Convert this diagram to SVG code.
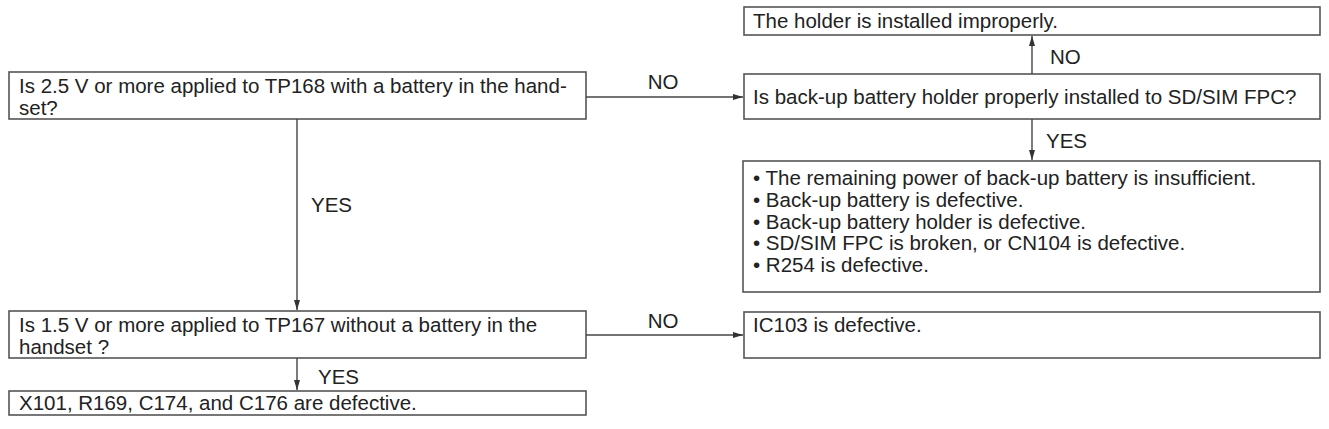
<svg xmlns="http://www.w3.org/2000/svg" width="1329" height="429" viewBox="0 0 1329 429">
<defs>
<style>
.box{fill:#fff;stroke:#555;stroke-width:1.6}
.t{font-family:"Liberation Sans",Arial,sans-serif;font-size:20.5px;fill:#222}
.lbl{font-family:"Liberation Sans",Arial,sans-serif;font-size:20.5px;fill:#222}
.ln{stroke:#444;stroke-width:1.4;fill:none}
</style>
<marker id="ah" viewBox="0 0 10 6" refX="10" refY="3" markerWidth="10" markerHeight="6" markerUnits="userSpaceOnUse" orient="auto">
<path d="M0,0 L10,3 L0,6 Z" fill="#333"/>
</marker>
</defs>
<rect width="1329" height="429" fill="#fff"/>
<g id="n_holder_improper">
<rect class="box" x="744" y="7" width="576" height="28"/>
<text class="t" x="753" y="28">The holder is installed improperly.</text>
</g>
<g id="n_q_holder">
<rect class="box" x="744" y="74" width="576" height="45"/>
<text class="t" x="753" y="104">Is back-up battery holder properly installed to SD/SIM FPC?</text>
</g>
<g id="n_causes">
<rect class="box" x="743" y="161" width="577" height="131"/>
<text class="t" x="753" y="185">• The remaining power of back-up battery is insufficient.</text>
<text class="t" x="753" y="207">• Back-up battery is defective.</text>
<text class="t" x="753" y="229">• Back-up battery holder is defective.</text>
<text class="t" x="753" y="250">• SD/SIM FPC is broken, or CN104 is defective.</text>
<text class="t" x="753" y="272">• R254 is defective.</text>
</g>
<g id="n_q_tp168">
<rect class="box" x="9" y="72" width="577" height="47"/>
<text class="t" x="19" y="93">Is 2.5 V or more applied to TP168 with a battery in the hand-</text>
<text class="t" x="19" y="115">set?</text>
</g>
<g id="n_q_tp167">
<rect class="box" x="9" y="311" width="577" height="47"/>
<text class="t" x="19" y="332">Is 1.5 V or more applied to TP167 without a battery in the</text>
<text class="t" x="19" y="354">handset ?</text>
</g>
<g id="n_ic103">
<rect class="box" x="744" y="312" width="576" height="46"/>
<text class="t" x="753" y="332">IC103 is defective.</text>
</g>
<g id="n_x101">
<rect class="box" x="9" y="391" width="577" height="24"/>
<text class="t" x="19" y="410">X101, R169, C174, and C176 are defective.</text>
</g>
<g id="connectors">
<line class="ln" x1="586" y1="97" x2="743" y2="97" marker-end="url(#ah)"/>
<text class="lbl" x="663" y="89" text-anchor="middle">NO</text>
<line class="ln" x1="1032" y1="74" x2="1032" y2="36" marker-end="url(#ah)"/>
<text class="lbl" x="1050" y="64">NO</text>
<line class="ln" x1="1032" y1="119" x2="1032" y2="160" marker-end="url(#ah)"/>
<text class="lbl" x="1046" y="148">YES</text>
<line class="ln" x1="297" y1="119" x2="297" y2="310" marker-end="url(#ah)"/>
<text class="lbl" x="311" y="212">YES</text>
<line class="ln" x1="586" y1="335" x2="743" y2="335" marker-end="url(#ah)"/>
<text class="lbl" x="663" y="328" text-anchor="middle">NO</text>
<line class="ln" x1="297" y1="358" x2="297" y2="390" marker-end="url(#ah)"/>
<text class="lbl" x="318" y="384">YES</text>
</g>
</svg>
